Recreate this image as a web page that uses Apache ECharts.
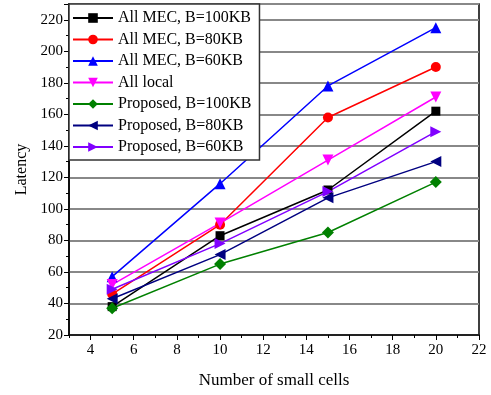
<!DOCTYPE html>
<html><head><meta charset="utf-8">
<script src="https://cdn.jsdelivr.net/npm/echarts@6/dist/echarts.min.js"></script>
<style>html,body{margin:0;padding:0;background:#fff}#c{width:491px;height:395px}</style>
</head><body><div id="c"></div>
<script>
const xValues = [5, 10, 15, 20];
const allMec100 = [38, 83, 112, 162];
const allMec80 = [46, 90, 158, 190];
const allMec60 = [57, 116, 178, 215];
const allLocal = [52, 91, 131, 171];
const prop100 = [37, 65, 85, 117];
const prop80 = [43, 71, 107, 130];
const prop60 = [49, 78, 111, 149];
const seriesNames = ['All MEC, B=100KB','All MEC, B=80KB','All MEC, B=60KB','All local','Proposed, B=100KB','Proposed, B=80KB','Proposed, B=60KB'];
const seriesData = [allMec100, allMec80, allMec60, allLocal, prop100, prop80, prop60];
const colors = ['#000000','#ff0000','#0000ff','#ff00ff','#008000','#000080','#8000ff'];
const symbols = ['rect','circle','triangle','triangle','diamond','triangle','triangle'];
const rotates = [0,0,0,180,0,90,-90];
const sizes = [9,10,11,11,12,11,11];
const xMajor = [4,6,8,10,12,14,16,18,20,22];
const xMinor = [3,5,7,9,11,13,15,17,19,21];

const font = '"Liberation Serif", "Times New Roman", serif';
const chart = echarts.init(document.getElementById('c'));
const series = seriesNames.map((n,i)=>({
  name:n, type:'line', xAxisIndex:0,
  data: xValues.map((x,j)=>[x, seriesData[i][j]]),
  symbol: symbols[i], symbolRotate: rotates[i], symbolSize: sizes[i],
  lineStyle:{color:colors[i], width:1.5},
  itemStyle:{color:colors[i]},
  animation:false
}));
chart.setOption({
  animation:false,
  grid:{left:69, right:12, top:4, bottom:60, show:true, borderColor:'#000', borderWidth:1.5},
  legend:{
    orient:'vertical', left:69, top:4, padding:[6,8,5,3], itemGap:5.5,
    itemWidth:40, itemHeight:12,
    backgroundColor:'#fff', borderColor:'#333', borderWidth:1.5,
    textStyle:{fontFamily:font, fontSize:16, color:'#000'},
    data: seriesNames
  },
  xAxis:[{
    type:'value', min:3, max:22, position:'bottom',
    name:'Number of small cells', nameLocation:'middle', nameGap:37,
    nameTextStyle:{fontFamily:font, fontSize:17, color:'#000'},
    axisLine:{lineStyle:{color:'#000', width:1.5}},
    axisTick:{show:true, length:5, customValues:xMajor, lineStyle:{color:'#000'}},
    axisLabel:{customValues:xMajor, fontFamily:font, fontSize:15, color:'#000', margin:8},
    splitLine:{show:false}
  },{
    type:'value', min:3, max:22, position:'bottom',
    axisLine:{show:false},
    axisTick:{show:true, length:3, customValues:xMinor, lineStyle:{color:'#000'}},
    axisLabel:{show:false},
    splitLine:{show:false}
  }],
  yAxis:{
    type:'value', min:20, max:230, interval:20,
    name:'Latency', nameLocation:'middle', nameGap:38,
    nameTextStyle:{fontFamily:font, fontSize:16, color:'#000'},
    axisLine:{show:true, lineStyle:{color:'#000', width:1.5}},
    axisTick:{show:true, length:5, lineStyle:{color:'#000'}},
    minorTick:{show:true, splitNumber:2, length:3, lineStyle:{color:'#000'}},
    axisLabel:{fontFamily:font, fontSize:15, color:'#000', margin:6, showMaxLabel:false},
    splitLine:{show:true, lineStyle:{color:'#888', width:2}}
  },
  series: series
});
</script></body></html>
